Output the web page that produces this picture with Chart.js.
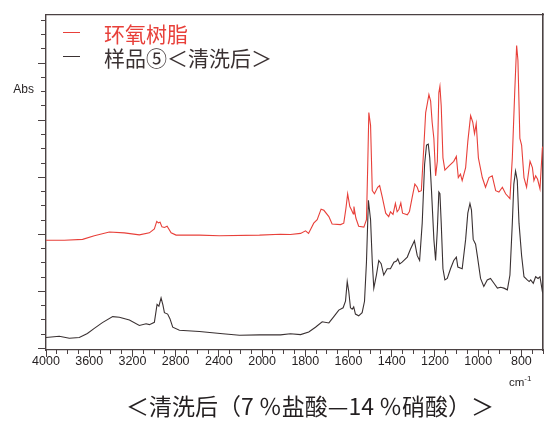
<!DOCTYPE html>
<html><head><meta charset="utf-8">
<script src="https://cdn.jsdelivr.net/npm/chart.js@4"></script>
<style>
html,body{margin:0;padding:0;background:#fff;}
#wrap{position:relative;width:545px;height:421px;overflow:hidden;background:#fff;}
#c{position:absolute;left:0;top:0;}
.lg{position:absolute;left:104px;height:24px;line-height:24px;font-family:"Noto Sans CJK SC","Noto Sans CJK JP",sans-serif;font-size:21px;white-space:nowrap;}
.dash{position:absolute;left:63px;width:17px;height:1.4px;}
#title{position:absolute;left:310px;top:390px;transform:translateX(-50%);font-family:"Noto Sans CJK SC",sans-serif;font-size:23px;line-height:30px;white-space:nowrap;color:#231f20;}
#unit{position:absolute;left:509px;top:375px;font-family:"Liberation Sans",sans-serif;font-size:11.5px;line-height:14px;color:#231f20;white-space:nowrap;}
#unit sup{font-size:8px;vertical-align:5px;line-height:0;}
</style>
</head><body>
<div id="wrap">
<canvas id="c" width="545" height="421"></canvas>
<div class="dash" id="d0" style="top:32px"></div>
<div class="lg" id="l0" style="top:21px"></div>
<div class="dash" id="d1" style="top:56px"></div>
<div class="lg" id="l1" style="top:45px"></div>
<div id="unit">cm<sup>-1</sup></div>
<div id="title"></div>
</div>
<script>
// ---------- data ----------
const SERIES_NAMES = ['环氧树脂', '样品⑤＜清洗后＞'];
const SERIES_COLORS = ['#e8403a', '#3a3132'];
const CHART_TITLE = '＜清洗后（7 ％盐酸—14 ％硝酸）＞';
const Y_LABEL = 'Abs';
const Y_LABEL_AT = 0.9;

const EPOXY_WN = [4000,3830,3661,3553,3414,3275,3136,3043,2997,2975,2960,2944,2927,2904,2879,2842,2796,2580,2395,2024,
  1915,1869,1822,1799,1785,1761,1745,1727,1714,1691,1676,1637,1622,1612,1604,1594,1586,1578,1575,1566,1553,1529,1517,1511,1506,1498,1490,1480,1465,1456,1444,1428,1414,1406,1394,1383,1375,1367,1358,1350,1328,1318,1305,1293,1282,1275,1263,1251,1243,1236,1228,1220,1213,1205,1197,1189,1182,1177,1171,1163,1154,1136,1113,1101,1092,1082,1074,1058,1048,1035,1025,1017,1009,999,981,966,950,935,919,904,888,873,853,842,831,822,816,807,799,788,776,760,749,742,734,725,714,703,700];
const EPOXY_ABS = [0.379,0.379,0.382,0.395,0.408,0.405,0.398,0.405,0.419,0.445,0.440,0.442,0.426,0.424,0.428,0.405,0.397,0.397,0.395,0.397,
  0.400,0.399,0.403,0.412,0.403,0.439,0.451,0.488,0.484,0.462,0.436,0.434,0.439,0.491,0.542,0.497,0.485,0.471,0.497,0.457,0.428,0.425,0.451,0.645,0.827,0.782,0.553,0.542,0.565,0.571,0.531,0.474,0.462,0.479,0.470,0.508,0.479,0.487,0.510,0.474,0.468,0.480,0.531,0.576,0.565,0.549,0.553,0.713,0.827,0.856,0.890,0.867,0.793,0.736,0.605,0.656,0.896,0.919,0.850,0.668,0.625,0.639,0.656,0.673,0.599,0.611,0.588,0.634,0.725,0.816,0.793,0.753,0.788,0.668,0.599,0.565,0.599,0.605,0.553,0.548,0.565,0.542,0.525,0.668,0.896,1.062,1.010,0.736,0.713,0.599,0.565,0.656,0.634,0.588,0.605,0.593,0.559,0.702,0.708];

const SAMPLE_WN = [4000,3877,3784,3692,3617,3553,3478,3383,3321,3228,3136,3074,3043,2997,2972,2955,2935,2918,2904,2874,2853,2827,2765,2580,2364,2209,2024,
  1915,1869,1822,1784,1753,1722,1691,1668,1645,1625,1614,1606,1599,1591,1583,1576,1568,1553,1537,1526,1517,1508,1498,1490,1483,1471,1460,1449,1437,1421,1406,1390,1378,1372,1363,1352,1328,1313,1295,1282,1271,1259,1248,1239,1231,1224,1216,1205,1197,1189,1182,1177,1171,1163,1154,1143,1128,1113,1101,1094,1074,1058,1048,1038,1031,1023,1012,1004,989,974,958,943,927,911,896,881,865,853,842,835,827,819,811,799,788,773,764,757,745,734,723,714,703,700];
const SAMPLE_ABS = [0.038,0.042,0.035,0.038,0.052,0.070,0.090,0.111,0.109,0.099,0.080,0.086,0.083,0.091,0.154,0.148,0.177,0.152,0.125,0.120,0.104,0.074,0.063,0.059,0.051,0.046,0.047,
  0.047,0.051,0.048,0.057,0.074,0.093,0.089,0.111,0.134,0.142,0.165,0.234,0.200,0.142,0.137,0.145,0.120,0.114,0.125,0.165,0.302,0.519,0.451,0.302,0.211,0.257,0.308,0.297,0.257,0.279,0.279,0.302,0.306,0.314,0.296,0.302,0.320,0.348,0.377,0.325,0.308,0.439,0.645,0.713,0.716,0.668,0.553,0.382,0.308,0.416,0.548,0.542,0.439,0.279,0.240,0.245,0.279,0.308,0.320,0.285,0.279,0.382,0.474,0.508,0.485,0.382,0.365,0.325,0.245,0.217,0.240,0.245,0.228,0.211,0.214,0.211,0.205,0.257,0.439,0.576,0.622,0.588,0.439,0.325,0.251,0.240,0.234,0.240,0.228,0.251,0.245,0.251,0.200,0.193];

const X_MAJOR_TICKS = [4000,3600,3200,2800,2400,2000,1800,1600,1400,1200,1000,800];
const X_MINOR_TICKS = [4000,3900,3800,3700,3600,3500,3400,3300,3200,3100,3000,2900,2800,2700,2600,2500,2400,2300,2200,2100,
  2000,1950,1900,1850,1800,1750,1700,1650,1600,1550,1500,1450,1400,1350,1300,1250,1200,1150,1100,1050,1000,950,900,850,800,750,700];
const Y_MAJOR_TICKS = [0,0.2,0.4,0.6,0.8,1.0];
const Y_MINOR_TICKS = [0,0.05,0.1,0.15,0.2,0.25,0.3,0.35,0.4,0.45,0.5,0.55,0.6,0.65,0.7,0.75,0.8,0.85,0.9,0.95,1.0,1.05,1.1,1.15];
const X_MIN = 700, X_MAX = 4000, X_BREAK = 2000;
const Y_MIN = -0.006, Y_MAX = 1.172;

// ---------- scale with a 2:1 compression above 2000 cm-1 ----------
class BrokenLinearScale extends Chart.LinearScale {
  static id = 'brokenLinear';
  static defaults = {};
  fold(v) { return v > X_BREAK ? X_BREAK + (v - X_BREAK) / 2 : v; }
  unfold(u) { return u > X_BREAK ? X_BREAK + (u - X_BREAK) * 2 : u; }
  configure() {
    super.configure();
    const a = this.fold(this.min), b = this.fold(this.max);
    this._startValue = a; this._endValue = b; this._valueRange = b - a;
  }
  getPixelForValue(v) { return this.getPixelForDecimal((this.fold(v) - this._startValue) / this._valueRange); }
  getValueForPixel(p) { return this.unfold(this._startValue + this.getDecimalForPixel(p) * this._valueRange); }
}
Chart.register(BrokenLinearScale);

const AXIS = '#4b4243';
const toPts = (xs, ys) => xs.map((x, i) => ({x, y: ys[i]}));
const setTicks = arr => s => { s.ticks = arr.map(v => ({value: v})); };

new Chart(document.getElementById('c'), {
  type: 'line',
  data: { datasets: [
    { label: SERIES_NAMES[0], data: toPts(EPOXY_WN, EPOXY_ABS), borderColor: SERIES_COLORS[0], borderWidth: 1.1, pointRadius: 0, tension: 0, fill: false, xAxisID: 'x', yAxisID: 'y' },
    { label: SERIES_NAMES[1], data: toPts(SAMPLE_WN, SAMPLE_ABS), borderColor: SERIES_COLORS[1], borderWidth: 1.1, pointRadius: 0, tension: 0, fill: false, xAxisID: 'x', yAxisID: 'y' }
  ]},
  options: {
    responsive: false, animation: false, devicePixelRatio: 1,
    layout: { padding: { top: 6, right: 2, left: 0, bottom: 0 } },
    plugins: { legend: { display: false }, tooltip: { enabled: false }, title: { display: false } },
    scales: {
      x: { type: 'brokenLinear', position: 'bottom', weight: 1, min: X_MIN, max: X_MAX, reverse: true, bounds: 'data',
        afterBuildTicks: setTicks(X_MAJOR_TICKS), afterFit: s => { s.height = 71; },
        grid: { drawOnChartArea: false, drawTicks: true, tickLength: 7, color: AXIS, lineWidth: 1 },
        border: { display: true, color: AXIS, width: 1.2 },
        ticks: { autoSkip: false, maxRotation: 0, minRotation: 0, padding: -3, color: '#231f20',
          font: { family: 'Liberation Sans', size: 12.5 }, callback: v => String(v) } },
      x2: { type: 'brokenLinear', position: 'bottom', weight: 0, min: X_MIN, max: X_MAX, reverse: true, bounds: 'data',
        afterBuildTicks: setTicks(X_MINOR_TICKS), afterFit: s => { s.height = 0; },
        grid: { drawOnChartArea: false, drawTicks: true, tickLength: 4, color: AXIS, lineWidth: 1 },
        border: { display: false }, ticks: { display: false, autoSkip: false } },
      xt: { type: 'linear', position: 'top', min: 0, max: 1, afterFit: s => { s.height = 0; },
        grid: { display: false, drawTicks: false }, ticks: { display: false },
        border: { display: true, color: AXIS, width: 1.2 } },
      // outer left axis: minor ticks + "Abs" label
      y: { type: 'linear', position: 'left', weight: 1, min: Y_MIN, max: Y_MAX, bounds: 'data',
        afterBuildTicks: setTicks(Y_MINOR_TICKS), afterFit: s => { s.width = 46; },
        grid: { drawOnChartArea: false, drawTicks: true, tickLength: 5, color: AXIS, lineWidth: 1 },
        border: { display: true, color: AXIS, width: 1.4 },
        ticks: { autoSkip: false, padding: 7, labelOffset: -2, color: '#231f20', font: { family: 'Liberation Sans', size: 12 },
          callback: v => Math.abs(v - Y_LABEL_AT) < 1e-6 ? Y_LABEL : '' } },
      // inner left axis (zero width): longer major ticks
      y2: { type: 'linear', position: 'left', weight: 0, min: Y_MIN, max: Y_MAX, bounds: 'data',
        afterBuildTicks: setTicks(Y_MAJOR_TICKS), afterFit: s => { s.width = 0; },
        grid: { drawOnChartArea: false, drawTicks: true, tickLength: 8, color: AXIS, lineWidth: 1 },
        border: { display: false },
        ticks: { display: false, autoSkip: false } },
      yr: { type: 'linear', position: 'right', min: 0, max: 1, afterFit: s => { s.width = 0; },
        grid: { display: false, drawTicks: false }, ticks: { display: false },
        border: { display: true, color: AXIS, width: 1.6 } }
    }
  }
});

// legend & captions as HTML text
SERIES_NAMES.forEach((n, i) => {
  const l = document.getElementById('l' + i);
  l.textContent = n; l.style.color = SERIES_COLORS[i];
  document.getElementById('d' + i).style.background = SERIES_COLORS[i];
});
document.getElementById('title').textContent = CHART_TITLE;
</script>
</body></html>
